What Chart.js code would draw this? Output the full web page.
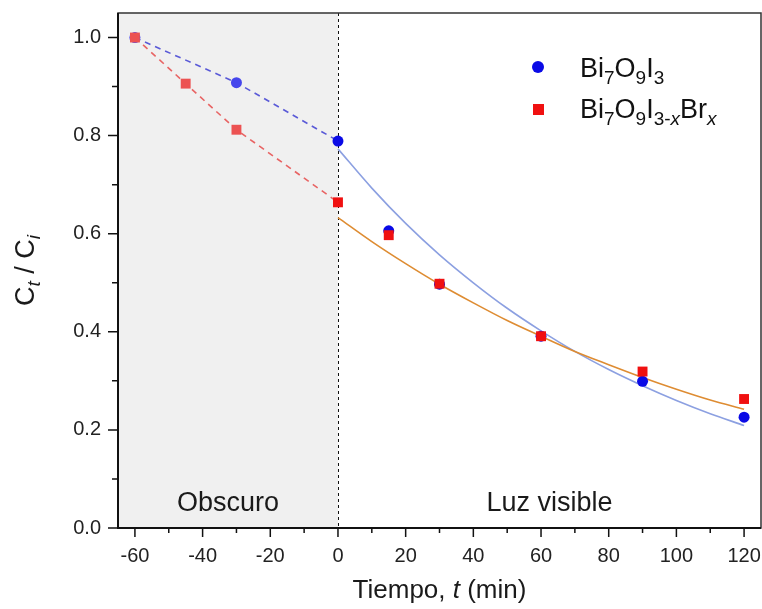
<!DOCTYPE html>
<html>
<head>
<meta charset="utf-8">
<script src="https://cdn.jsdelivr.net/npm/chart.js@4.4.1/dist/chart.umd.min.js"></script>
<style>
  html, body { margin: 0; padding: 0; background: #fff; }
  #wrap { width: 762px; height: 609px; }
</style>
</head>
<body>
<div id="wrap"><canvas id="chart" width="762" height="609"></canvas></div>
<script>
// measured points, C_t / C_i against time (min)
const blueTime = [-60, -30, 0, 15, 30, 60, 90, 120];
const blueValues = [1.0, 0.908, 0.789, 0.606, 0.497, 0.391, 0.299, 0.226];
const redTime = [-60, -45, -30, 0, 15, 30, 60, 90, 120];
const redValues = [1.0, 0.906, 0.812, 0.664, 0.597, 0.498, 0.391, 0.319, 0.263];

// fitted curves (light phase only)
const fitTime = [0, 10, 20, 30, 40, 50, 60, 70, 80, 90, 100, 110, 120];
const blueFit = [0.773, 0.693, 0.621, 0.557, 0.500, 0.448, 0.402, 0.360, 0.323, 0.290, 0.260, 0.233, 0.209];
const redFit = [0.633, 0.584, 0.539, 0.497, 0.459, 0.423, 0.391, 0.360, 0.333, 0.307, 0.283, 0.261, 0.242];

const xTicks = [-60, -40, -20, 0, 20, 40, 60, 80, 100, 120];
const xMinor = [-50, -30, -10, 10, 30, 50, 70, 90, 110];
const yTicks = [0, 0.2, 0.4, 0.6, 0.8, 1.0];
const yMinor = [0.1, 0.3, 0.5, 0.7, 0.9];

const FONT = '"Liberation Sans", Arial, Helvetica, sans-serif';
const toXY = (xs, ys) => xs.map((x, i) => ({ x: x, y: ys[i] }));
const darkBlue = blueTime.map((t, i) => [t, blueValues[i]]).filter(p => p[0] <= 0);
const darkRed = redTime.map((t, i) => [t, redValues[i]]).filter(p => p[0] <= 0);

// text with sub/italic parts: n normal, i italic, s sub, si italic sub
function richWidth(ctx, parts, size, sub) {
    let w = 0;
    parts.forEach(p => {
        const isSub = p[1][0] === 's';
        const it = p[1].indexOf('i') >= 0;
        ctx.font = (it ? 'italic ' : '') + (isSub ? sub : size) + 'px ' + FONT;
        w += ctx.measureText(p[0]).width;
    });
    return w;
}
function drawRich(ctx, parts, x, y, size, sub, drop) {
    parts.forEach(p => {
        const isSub = p[1][0] === 's';
        const it = p[1].indexOf('i') >= 0;
        ctx.font = (it ? 'italic ' : '') + (isSub ? sub : size) + 'px ' + FONT;
        ctx.fillText(p[0], x, isSub ? y + drop : y);
        x += ctx.measureText(p[0]).width;
    });
}

const decor = {
    id: 'decor',
    beforeDatasetsDraw(chart) {
        const { ctx, chartArea: a, scales: { x } } = chart;
        const x0 = x.getPixelForValue(0);
        ctx.save();
        ctx.fillStyle = '#f0f0f0';
        ctx.fillRect(a.left, a.top, x0 - a.left, a.bottom - a.top);

        ctx.fillStyle = '#1a1a1a';
        ctx.font = '27px ' + FONT;
        ctx.textAlign = 'center';
        ctx.textBaseline = 'alphabetic';
        ctx.fillText('Obscuro', (a.left + x0) / 2, a.bottom - 17);
        ctx.fillText('Luz visible', (x0 + a.right) / 2, a.bottom - 17);

        ctx.strokeStyle = '#111';
        ctx.lineWidth = 1;
        ctx.setLineDash([3, 3]);
        ctx.beginPath();
        ctx.moveTo(Math.round(x0) + 0.5, a.top);
        ctx.lineTo(Math.round(x0) + 0.5, a.bottom);
        ctx.stroke();
        ctx.restore();
    },
    afterDraw(chart) {
        const { ctx, chartArea: a, scales: { x, y } } = chart;
        ctx.save();
        // frame
        ctx.strokeStyle = '#333';
        ctx.lineWidth = 1.5;
        ctx.strokeRect(a.left, a.top, a.right - a.left, a.bottom - a.top);
        ctx.strokeStyle = '#111';
        ctx.lineWidth = 2;
        ctx.beginPath();
        ctx.moveTo(a.left, a.top);
        ctx.lineTo(a.left, a.bottom);
        ctx.lineTo(a.right, a.bottom);
        ctx.stroke();

        // tick marks
        ctx.lineWidth = 1.5;
        ctx.beginPath();
        xTicks.forEach(v => { const px = x.getPixelForValue(v); ctx.moveTo(px, a.bottom); ctx.lineTo(px, a.bottom + 9); });
        xMinor.forEach(v => { const px = x.getPixelForValue(v); ctx.moveTo(px, a.bottom); ctx.lineTo(px, a.bottom + 5); });
        yTicks.forEach(v => { const py = y.getPixelForValue(v); ctx.moveTo(a.left - 10, py); ctx.lineTo(a.left, py); });
        yMinor.forEach(v => { const py = y.getPixelForValue(v); ctx.moveTo(a.left - 6, py); ctx.lineTo(a.left, py); });
        ctx.stroke();

        // axis titles
        ctx.fillStyle = '#1a1a1a';
        ctx.textAlign = 'left';
        ctx.textBaseline = 'alphabetic';
        const xt = [['Tiempo, ', 'n'], ['t', 'i'], [' (min)', 'n']];
        const xw = richWidth(ctx, xt, 26, 26);
        drawRich(ctx, xt, (a.left + a.right) / 2 - xw / 2, 598, 26, 26, 0);

        const yt = [['C', 'n'], ['t', 'si'], [' / ', 'n'], ['C', 'n'], ['i', 'si']];
        const yw = richWidth(ctx, yt, 27, 19);
        ctx.save();
        ctx.translate(34, (a.top + a.bottom) / 2);
        ctx.rotate(-Math.PI / 2);
        drawRich(ctx, yt, -yw / 2, 0, 27, 19, 6);
        ctx.restore();

        // legend
        ctx.fillStyle = '#0a0ae6';
        ctx.beginPath();
        ctx.arc(538, 67, 6, 0, Math.PI * 2);
        ctx.fill();
        ctx.fillStyle = '#f01010';
        ctx.fillRect(533, 104, 11, 11);
        ctx.fillStyle = '#111';
        drawRich(ctx, [['Bi', 'n'], ['7', 's'], ['O', 'n'], ['9', 's'], ['I', 'n'], ['3', 's']], 580, 77, 27, 19, 7);
        drawRich(ctx, [['Bi', 'n'], ['7', 's'], ['O', 'n'], ['9', 's'], ['I', 'n'], ['3-', 's'], ['x', 'si'], ['Br', 'n'], ['x', 'si']], 580, 118, 27, 19, 7);
        ctx.restore();
    }
};

new Chart(document.getElementById('chart'), {
    type: 'scatter',
    data: {
        datasets: [
            {
                data: toXY(redTime, redValues),
                pointStyle: 'rect',
                pointRadius: 7,
                pointBorderWidth: 0,
                pointBackgroundColor: c => (c.raw && c.raw.x < 0) ? 'rgb(236,82,82)' : '#f01010'
            },
            {
                data: toXY(blueTime, blueValues),
                pointStyle: 'circle',
                pointRadius: 5.5,
                pointBorderWidth: 0,
                pointBackgroundColor: c => (c.raw && c.raw.x < 0) ? 'rgb(70,70,236)' : '#0a0ae6'
            },
            {
                data: toXY(fitTime, redFit),
                showLine: true,
                borderColor: 'rgb(222,140,50)',
                borderWidth: 1.6,
                pointRadius: 0,
                cubicInterpolationMode: 'monotone'
            },
            {
                data: toXY(fitTime, blueFit),
                showLine: true,
                borderColor: 'rgb(140,160,225)',
                borderWidth: 1.6,
                pointRadius: 0,
                cubicInterpolationMode: 'monotone'
            },
            {
                data: darkRed.map(p => ({ x: p[0], y: p[1] })),
                showLine: true,
                borderColor: 'rgb(232,100,100)',
                borderWidth: 1.6,
                borderDash: [6, 5],
                pointRadius: 0
            },
            {
                data: darkBlue.map(p => ({ x: p[0], y: p[1] })),
                showLine: true,
                borderColor: 'rgb(90,90,215)',
                borderWidth: 1.6,
                borderDash: [6, 5],
                pointRadius: 0
            }
        ]
    },
    options: {
        responsive: false,
        devicePixelRatio: 1,
        animation: false,
        events: [],
        layout: { autoPadding: false, padding: { top: 13, right: 1, left: 0, bottom: 0 } },
        plugins: { legend: { display: false }, tooltip: { enabled: false } },
        scales: {
            x: {
                type: 'linear',
                min: -65,
                max: 125,
                afterBuildTicks: s => { s.ticks = xTicks.map(v => ({ value: v })); },
                afterFit: s => { s.height = 81; s.paddingLeft = 0; s.paddingRight = 0; },
                grid: { display: false, drawTicks: true, tickLength: 16 },
                border: { display: false },
                ticks: {
                    color: '#222',
                    font: { family: FONT, size: 20 },
                    padding: 0,
                    maxRotation: 0,
                    autoSkip: false
                }
            },
            y: {
                type: 'linear',
                min: 0,
                max: 1.05,
                afterBuildTicks: s => { s.ticks = yTicks.map(v => ({ value: v })); },
                afterFit: s => { s.width = 118; s.paddingTop = 0; s.paddingBottom = 0; },
                grid: { display: false, drawTicks: true, tickLength: 17 },
                border: { display: false },
                ticks: {
                    color: '#222',
                    font: { family: FONT, size: 20 },
                    padding: 0,
                    autoSkip: false,
                    callback: v => v.toFixed(1)
                }
            }
        }
    },
    plugins: [decor]
});
</script>
</body>
</html>
